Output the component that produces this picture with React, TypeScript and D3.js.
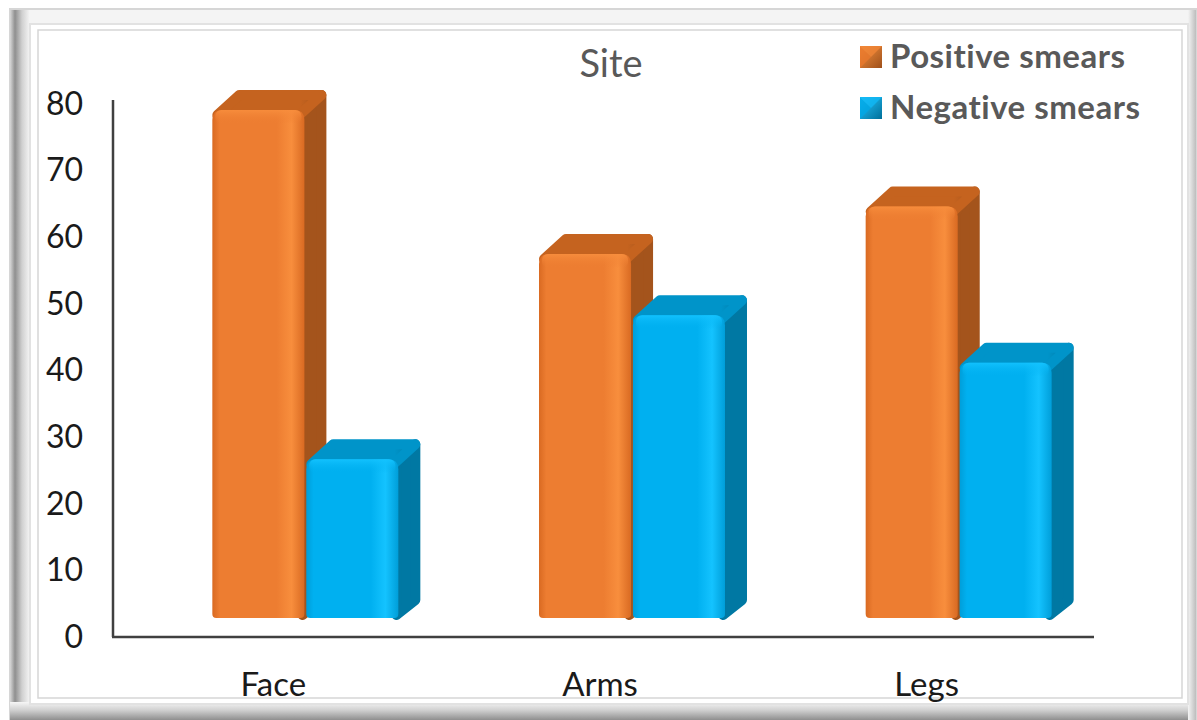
import React from "react";
import * as d3 from "d3";

// Site of lesion vs smear result (percent)
const categories = ["Face", "Arms", "Legs"];
const seriesNames = ["Positive smears", "Negative smears"];
const positiveSmears = [76.2, 54.6, 61.7];
const negativeSmears = [23.8, 45.4, 38.3];
const yTicks = [0, 10, 20, 30, 40, 50, 60, 70, 80];

const W = 1197;
const H = 720;
const FONT = "Lato, 'Open Sans', sans-serif";

const palette = [
  { front: "#ED7D31", light: "#F88E3D", dark: "#D96A22", side: "#A4541C", top: "#C5631F", name: "orange" },
  { front: "#00B0F0", light: "#14C3FF", dark: "#009ED9", side: "#0078A3", top: "#0094C9", name: "blue" },
];

function Bar3D({ x, yTop, yBase, w, dx, dy, c }: any) {
  const r = 10;
  // front face with rounded top corners and softened bottom
  const front = `M${x},${yBase - 4} L${x},${yTop + r} Q${x},${yTop} ${x + r},${yTop} L${x + w - r},${yTop} Q${x + w},${yTop} ${x + w},${yTop + r} L${x + w},${yBase - 4} Q${x + w},${yBase} ${x + w - 4},${yBase} L${x + 4},${yBase} Q${x},${yBase} ${x},${yBase - 4} Z`;
  const side = `M${x + w - 2},${yTop + 5} L${x + w + dx - 5},${yTop + dy + 5} L${x + w + dx - 5},${yBase + dy + 2} L${x + w - 2},${yBase - 3} Z`;
  const top = `M${x + 5},${yTop + 5} L${x + dx + 5},${yTop + dy + 5} L${x + w + dx - 5},${yTop + dy + 5} L${x + w - 5},${yTop + 5} Z`;
  return (
    <g>
      <path d={side} fill={c.side} stroke={c.side} strokeWidth={10} strokeLinejoin="round" />
      <path d={top} fill={`url(#top-${c.name})`} stroke={c.top} strokeWidth={10} strokeLinejoin="round" />
      <path d={front} fill={`url(#front-${c.name})`} />
      <rect x={x + 3} y={yTop} width={w - 6} height={Math.min(14, yBase - yTop)} fill={`url(#bevel-${c.name})`} rx={6} />
    </g>
  );
}

export default function App() {
  const yScale = d3.scaleLinear().domain([0, 80]).range([637, 103.6]);
  const x0 = d3.scaleBand<string>().domain(categories).range([113, 1093]).padding(0);
  const x1 = d3.scaleBand<string>().domain(seriesNames).range([0, 186]).paddingInner(0.02);
  const frontShift = -19; // front face sits above the floor line
  const dx = 22;
  const dy = -20;
  const values = [positiveSmears, negativeSmears];

  return (
    <svg width={W} height={H} style={{ display: "block", position: "absolute", left: 0, top: 0 }}>
      <defs>
        {palette.map((c) => (
          <React.Fragment key={c.name}>
            <linearGradient id={`front-${c.name}`} x1="0" x2="1" y1="0" y2="0">
              <stop offset="0" stopColor={c.dark} />
              <stop offset="0.08" stopColor={c.front} />
              <stop offset="0.7" stopColor={c.front} />
              <stop offset="0.86" stopColor={c.light} />
              <stop offset="1" stopColor={c.dark} />
            </linearGradient>
            <linearGradient id={`top-${c.name}`} x1="0" x2="1" y1="0" y2="0">
              <stop offset="0" stopColor={c.top} />
              <stop offset="0.8" stopColor={c.top} />
              <stop offset="1" stopColor={c.side} />
            </linearGradient>
            <linearGradient id={`bevel-${c.name}`} x1="0" x2="0" y1="0" y2="1">
              <stop offset="0" stopColor={c.light} stopOpacity={0.9} />
              <stop offset="1" stopColor={c.front} stopOpacity={0} />
            </linearGradient>
          </React.Fragment>
        ))}
        <linearGradient id="frameLeft" x1="0" x2="1" y1="0" y2="0">
          <stop offset="0" stopColor="#d8d8d8" />
          <stop offset="0.25" stopColor="#8f8f8f" />
          <stop offset="0.6" stopColor="#d0d0d0" />
          <stop offset="1" stopColor="#f6f6f6" />
        </linearGradient>
        <linearGradient id="frameBottom" x1="0" x2="0" y1="0" y2="1">
          <stop offset="0" stopColor="#f6f6f6" />
          <stop offset="0.45" stopColor="#d0d0d0" />
          <stop offset="1" stopColor="#8f8f8f" />
        </linearGradient>
        <linearGradient id="frameRight" x1="0" x2="1" y1="0" y2="0">
          <stop offset="0" stopColor="#f4f4f4" />
          <stop offset="1" stopColor="#bdbdbd" />
        </linearGradient>
        <linearGradient id="mkOrange" x1="0" x2="1" y1="0" y2="1">
          <stop offset="0" stopColor="#F7933F" />
          <stop offset="1" stopColor="#9E4F1A" />
        </linearGradient>
        <linearGradient id="mkBlue" x1="0" x2="1" y1="0" y2="1">
          <stop offset="0" stopColor="#26C6FF" />
          <stop offset="1" stopColor="#006F99" />
        </linearGradient>
      </defs>

      <rect x={0} y={0} width={W} height={H} fill="#ffffff" />

      {/* picture frame */}
      <rect x={10} y={9} width={1186} height={711} fill="#f4f4f4" stroke="#d6d6d6" strokeWidth={2} />
      <rect x={10} y={10} width={20} height={710} fill="url(#frameLeft)" />
      <rect x={10} y={702} width={1186} height={18} fill="url(#frameBottom)" />
      <rect x={1188} y={10} width={8} height={710} fill="url(#frameRight)" />
      <rect x={30} y={24} width={1158} height={680} fill="#ffffff" stroke="#e2e2e2" strokeWidth={2} />
      <rect x={38} y={30} width={1144} height={668} fill="#ffffff" stroke="#d6d6d6" strokeWidth={1.5} />

      {/* title */}
      <text x={611} y={77} textAnchor="middle" fontFamily={FONT} fontSize={38} fill="#595959">Site</text>

      {/* legend */}
      {seriesNames.map((s, i) => (
        <g key={s} transform={`translate(860, ${46 + i * 51})`}>
          <rect x={0} y={0} width={22} height={22} fill={i === 0 ? "url(#mkOrange)" : "url(#mkBlue)"} />
          <path d="M0,0 L11,11 L0,22 Z" fill={i === 0 ? "#E8782C" : "#00A8E6"} opacity={0.8} />
          <path d="M0,0 L22,0 L11,11 Z" fill={i === 0 ? "#F08536" : "#10B8F5"} opacity={0.8} />
          <text x={30} y={22} fontFamily={FONT} fontWeight={700} fontSize={33} letterSpacing={0.5} fill="#595959">{s}</text>
        </g>
      ))}

      {/* axes */}
      <line x1={113} x2={113} y1={100} y2={637} stroke="#404040" strokeWidth={2.5} />
      <line x1={112} x2={1094} y1={637} y2={637} stroke="#404040" strokeWidth={2.5} />

      {yTicks.map((t) => (
        <text key={t} x={83} y={yScale(t) + 11} textAnchor="end" fontFamily={FONT} fontSize={32} fill="#1a1a1a">{t}</text>
      ))}

      {categories.map((c) => (
        <text key={c} x={(x0(c) as number) + x0.bandwidth() / 2 - 3} y={696} textAnchor="middle" fontFamily={FONT} fontSize={33} fill="#1a1a1a">{c}</text>
      ))}

      {/* bars */}
      {categories.map((c, ci) => {
        const gx = (x0(c) as number) + x0.bandwidth() / 2 - 64;
        return (
          <g key={c}>
            {seriesNames.map((s, si) => (
              <Bar3D
                key={s}
                x={gx + (x1(s) as number)}
                yTop={yScale(values[si][ci]) + frontShift}
                yBase={yScale(0) + frontShift}
                w={x1.bandwidth()}
                dx={dx}
                dy={dy}
                c={palette[si]}
              />
            ))}
          </g>
        );
      })}
    </svg>
  );
}
